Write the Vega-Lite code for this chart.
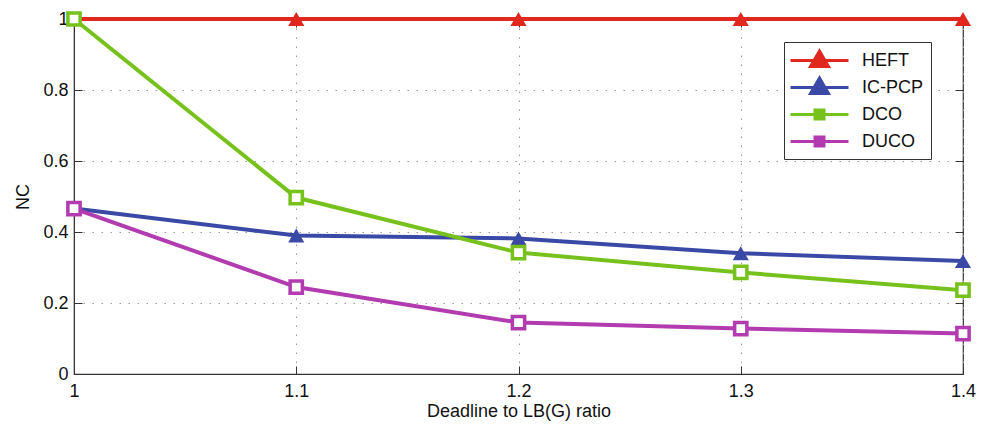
{
  "$schema": "https://vega.github.io/schema/vega-lite/v6.json",
  "autosize": {"type": "none"},
  "width": 889,
  "height": 355,
  "padding": {"left": 74, "top": 19, "right": 26, "bottom": 53},
  "background": "white",
  "config": {
    "font": "Liberation Sans",
    "view": {"stroke": "#333333", "strokeWidth": 1.2},
    "axis": {
      "labelFont": "Liberation Sans",
      "titleFont": "Liberation Sans",
      "labelFontSize": 18,
      "titleFontSize": 18,
      "titleFontWeight": "normal",
      "labelColor": "#111111",
      "titleColor": "#111111",
      "domainColor": "#333333",
      "tickColor": "#333333",
      "tickSize": -8,
      "gridColor": "#999999",
      "gridDash": [1.5, 7.5],
      "gridWidth": 1
    }
  },
  "data": {
    "values": [
      {"ratio": 1.0, "nc": 1.0, "series": "HEFT"},
      {"ratio": 1.1, "nc": 1.0, "series": "HEFT"},
      {"ratio": 1.2, "nc": 1.0, "series": "HEFT"},
      {"ratio": 1.3, "nc": 1.0, "series": "HEFT"},
      {"ratio": 1.4, "nc": 1.0, "series": "HEFT"},
      {"ratio": 1.0, "nc": 0.466, "series": "IC-PCP"},
      {"ratio": 1.1, "nc": 0.39, "series": "IC-PCP"},
      {"ratio": 1.2, "nc": 0.382, "series": "IC-PCP"},
      {"ratio": 1.3, "nc": 0.34, "series": "IC-PCP"},
      {"ratio": 1.4, "nc": 0.318, "series": "IC-PCP"},
      {"ratio": 1.0, "nc": 1.0, "series": "DCO"},
      {"ratio": 1.1, "nc": 0.497, "series": "DCO"},
      {"ratio": 1.2, "nc": 0.342, "series": "DCO"},
      {"ratio": 1.3, "nc": 0.286, "series": "DCO"},
      {"ratio": 1.4, "nc": 0.236, "series": "DCO"},
      {"ratio": 1.0, "nc": 0.466, "series": "DUCO"},
      {"ratio": 1.1, "nc": 0.245, "series": "DUCO"},
      {"ratio": 1.2, "nc": 0.145, "series": "DUCO"},
      {"ratio": 1.3, "nc": 0.128, "series": "DUCO"},
      {"ratio": 1.4, "nc": 0.114, "series": "DUCO"}
    ]
  },
  "resolve": {"axis": {"x": "independent", "y": "independent"}},
  "layer": [
    {
      "encoding": {
        "x": {
          "field": "ratio",
          "type": "quantitative",
          "scale": {"domain": [1, 1.4], "nice": false, "zero": false},
          "axis": {"values": [1, 1.1, 1.2, 1.3, 1.4], "format": "~g", "title": "Deadline to LB(G) ratio", "labelPadding": 16, "titlePadding": 2, "labelFlush": false, "labelOverlap": false}
        },
        "y": {
          "field": "nc",
          "type": "quantitative",
          "scale": {"domain": [0, 1], "nice": false},
          "axis": {"values": [0, 0.2, 0.4, 0.6, 0.8, 1], "format": "~g", "title": "NC", "labelPadding": 14, "titlePadding": 10, "labelFlush": false, "labelOverlap": false}
        },
        "color": {
          "field": "series",
          "type": "nominal",
          "sort": ["HEFT", "IC-PCP", "DCO", "DUCO"],
          "scale": {"domain": ["HEFT", "IC-PCP", "DCO", "DUCO"], "range": ["#e0281e", "#3a49a6", "#76c11b", "#b23bb0"]}
        }
      },
      "layer": [
        {
          "mark": {"type": "line", "strokeWidth": 4, "clip": false},
          "encoding": {
            "order": {"field": "ratio"},
            "color": {
              "field": "series",
              "type": "nominal",
              "sort": ["HEFT", "IC-PCP", "DCO", "DUCO"],
              "scale": {"domain": ["HEFT", "IC-PCP", "DCO", "DUCO"], "range": ["#e0281e", "#3a49a6", "#76c11b", "#b23bb0"]},
              "legend": {
                "title": null,
                "orient": "none",
                "legendX": 710,
                "legendY": 23,
                "direction": "vertical",
                "fillColor": "white",
                "strokeColor": "#333333",
                "padding": 7,
                "cornerRadius": 0,
                "symbolSize": 400,
                "symbolOffset": 17,
                "labelOffset": 31,
                "labelFontSize": 18,
                "labelFont": "Liberation Sans",
                "labelColor": "#111111",
                "rowPadding": -1,
                "gridAlign": "all",
                "symbolStrokeWidth": 3,
                "encode": {
                  "symbols": {
                    "update": {
                      "shape": {"signal": "(datum.value == 'DCO' || datum.value == 'DUCO') ? 'M-2.9,0H-0.45M0.45,0H2.9M-0.45,-0.45H0.45V0.45H-0.45Z' : 'M-2.9,0H2.9M0,-0.95L0.9,0.6L-0.9,0.6Z'"},
                      "fill": {"signal": "datum.value == 'HEFT' ? '#e0281e' : datum.value == 'IC-PCP' ? '#3a49a6' : 'white'"},
                      "fillOpacity": {"value": 1}
                    }
                  }
                }
              }
            }
          }
        },
        {
          "transform": [{"filter": "datum.series == 'HEFT' || datum.series == 'IC-PCP'"}],
          "mark": {"type": "point", "shape": "triangle-up", "filled": true, "size": 260, "opacity": 1, "clip": false},
          "encoding": {
            "color": {"field": "series", "type": "nominal", "legend": null}
          }
        },
        {
          "transform": [{"filter": "datum.series == 'DCO' || datum.series == 'DUCO'"}],
          "mark": {"type": "point", "shape": "square", "filled": false, "fill": "white", "size": 150, "strokeWidth": 3.5, "opacity": 1, "clip": false},
          "encoding": {
            "color": {"field": "series", "type": "nominal", "legend": null}
          }
        }
      ]
    },
    {
      "mark": {"type": "point", "opacity": 0},
      "encoding": {
        "x": {
          "field": "ratio",
          "type": "quantitative",
          "axis": {"orient": "top", "values": [1, 1.1, 1.2, 1.3, 1.4], "labels": false, "title": null, "grid": false, "domain": false}
        },
        "y": {
          "field": "nc",
          "type": "quantitative",
          "axis": {"orient": "right", "values": [0, 0.2, 0.4, 0.6, 0.8, 1], "labels": false, "title": null, "grid": false, "domain": false}
        }
      }
    }
  ]
}
